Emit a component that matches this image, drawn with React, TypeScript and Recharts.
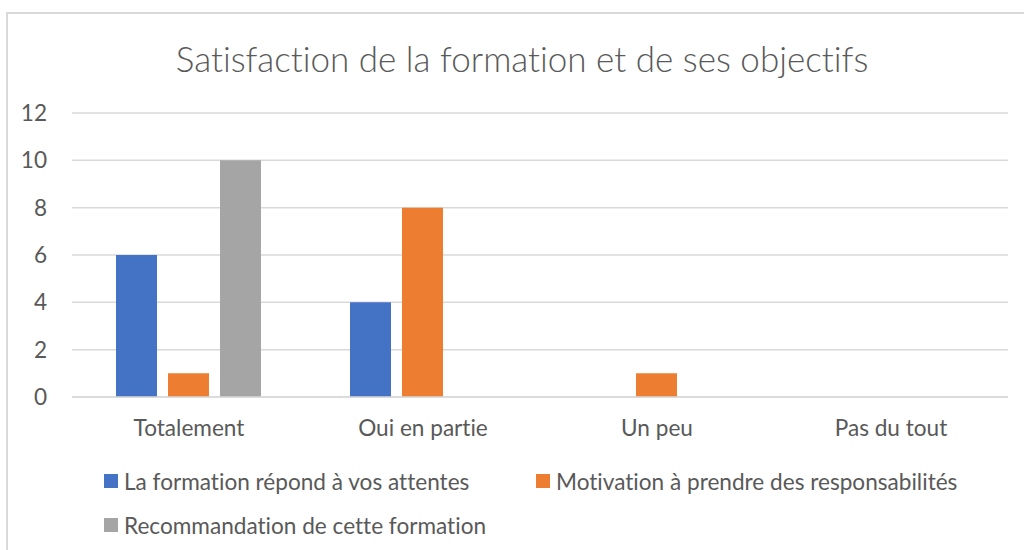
import React from 'react';
import { BarChart, Bar, XAxis, YAxis, CartesianGrid, Legend } from 'recharts';

const categories = ['Totalement', 'Oui en partie', 'Un peu', 'Pas du tout'];
const attentes = [6, 4, null, null];
const motivation = [1, 8, 1, null];
const recommandation = [10, null, null, null];
const yTicks = [0, 2, 4, 6, 8, 10, 12];

const seriesNames = [
  'La formation répond à vos attentes',
  'Motivation à prendre des responsabilités',
  'Recommandation de cette formation',
];
const colors = ['#4472C4', '#ED7D31', '#A5A5A5'];

const data = categories.map((c, i) => ({
  name: c,
  attentes: attentes[i],
  motivation: motivation[i],
  recommandation: recommandation[i],
}));

const FONT = 'Lato, "Open Sans", sans-serif';
const TEXT = '#595959';
const FS = 22.6;

const renderLegend = (props: any) => {
  const payload = props.payload || [];
  return (
    <div style={{ display: 'flex', flexWrap: 'wrap', width: 900, fontFamily: FONT, fontVariantLigatures: 'none' }}>
      {payload.map((p: any, i: number) => (
        <div
          key={i}
          style={{
            width: 432,
            height: 44,
            display: 'flex',
            alignItems: 'center',
          }}
        >
          <span
            style={{
              display: 'inline-block',
              width: 14,
              height: 14,
              background: p.color,
              marginRight: 6,
            }}
          />
          <span style={{ fontSize: FS, color: TEXT, whiteSpace: 'nowrap' }}>{p.value}</span>
        </div>
      ))}
    </div>
  );
};

export default function App() {
  return (
    <div
      style={{
        position: 'fixed',
        left: 0,
        top: 0,
        width: 1024,
        height: 550,
        overflow: 'hidden',
        background: '#fff',
      }}
    >
      <div
        style={{
          position: 'absolute',
          left: 6,
          top: 12,
          width: 1040,
          height: 600,
          borderTop: '2px solid #d9d9d9',
          borderLeft: '2px solid #d9d9d9',
        }}
      />
      <div
        style={{
          position: 'absolute',
          left: 22,
          width: 1000,
          top: 41,
          textAlign: 'center',
          fontFamily: FONT,
          fontWeight: 300,
          fontSize: 35,
          lineHeight: '35px',
          color: TEXT,
          whiteSpace: 'nowrap',
          fontVariantLigatures: 'none',
        }}
      >
        Satisfaction de la formation et de ses objectifs
      </div>
      <div style={{ position: 'absolute', left: 0, top: 0, fontVariantLigatures: 'none' }}>
        <BarChart
          width={1024}
          height={550}
          data={data}
          margin={{ top: 113, right: 16, left: 12, bottom: 123 }}
          barCategoryGap={44}
          barGap={11}
        >
          <CartesianGrid vertical={false} stroke="#d9d9d9" strokeWidth={1.5} />
          <XAxis
            dataKey="name"
            axisLine={{ stroke: '#d9d9d9', strokeWidth: 1.5 }}
            tickLine={false}
            tickMargin={17}
            height={30}
            interval={0}
            tick={{ fill: TEXT, fontSize: FS, fontFamily: FONT }}
          />
          <YAxis
            width={60}
            domain={[0, 12]}
            ticks={yTicks}
            axisLine={false}
            tickLine={false}
            tickMargin={19}
            tick={{ fill: TEXT, fontSize: FS, fontFamily: FONT }}
          />
          <Legend
            layout="horizontal"
            verticalAlign="middle"
            align="center"
            content={renderLegend}
            wrapperStyle={{ left: 104, top: 459, width: 900 }}
          />
          <Bar dataKey="attentes" name={seriesNames[0]} fill={colors[0]} isAnimationActive={false} />
          <Bar dataKey="motivation" name={seriesNames[1]} fill={colors[1]} isAnimationActive={false} />
          <Bar dataKey="recommandation" name={seriesNames[2]} fill={colors[2]} isAnimationActive={false} />
        </BarChart>
      </div>
    </div>
  );
}
